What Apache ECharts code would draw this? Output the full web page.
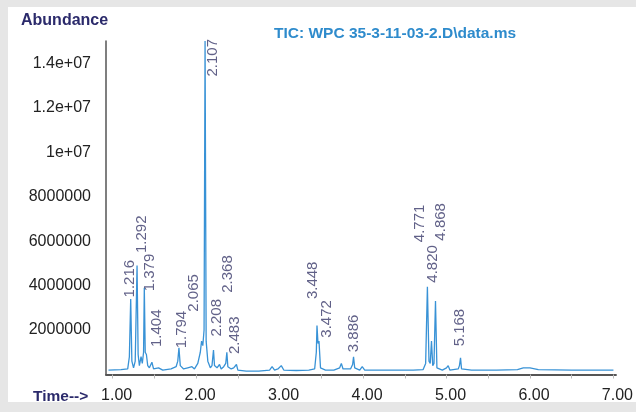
<!DOCTYPE html>
<html><head><meta charset="utf-8">
<script src="https://cdn.jsdelivr.net/npm/echarts@6/dist/echarts.min.js"></script>
<style>html,body{margin:0;padding:0;background:#e6e6e6;}#c{width:636px;height:412px;}</style>
</head><body><div id="c"></div>
<script>
// Chromatogram trace (retention time in minutes, abundance)
const timeValues = [0.95,1.10,1.18,1.20,1.216,1.23,1.25,1.27,1.292,1.305,1.32,1.34,1.355,1.37,1.379,1.39,1.404,1.42,1.44,1.47,1.49,1.55,1.60,1.70,1.76,1.78,1.794,1.81,1.85,1.90,1.95,1.98,2.02,2.05,2.065,2.08,2.095,2.107,2.12,2.14,2.17,2.19,2.208,2.22,2.25,2.28,2.30,2.33,2.355,2.368,2.38,2.42,2.45,2.483,2.50,2.60,2.75,2.88,2.91,2.94,2.98,3.02,3.05,3.20,3.35,3.42,3.44,3.448,3.46,3.472,3.49,3.55,3.65,3.72,3.74,3.76,3.85,3.875,3.886,3.90,3.96,3.99,4.02,4.20,4.40,4.60,4.72,4.75,4.771,4.79,4.805,4.820,4.835,4.85,4.868,4.885,4.95,5.00,5.02,5.04,5.14,5.155,5.168,5.18,5.30,5.60,5.85,5.92,6.00,6.10,6.50,7.00];
const abundanceValues = [2.0e5,2.2e5,2.5e5,8.0e5,3.4e6,6.0e5,3.0e5,6.0e5,4.9e6,9.0e5,4.0e5,8.0e5,5.0e5,1.0e6,3.9e6,1.0e6,9.0e5,4.0e5,3.0e5,5.5e5,2.5e5,3.0e5,2.0e5,2.5e5,3.5e5,6.0e5,1.2e6,4.0e5,2.5e5,3.0e5,3.5e5,2.5e5,5.0e5,1.0e6,1.5e6,1.3e6,2.0e6,1.5e7,1.5e6,6.0e5,3.0e5,4.0e5,1.1e6,4.0e5,3.0e5,4.5e5,2.5e5,3.5e5,5.0e5,1.0e6,3.5e5,2.5e5,3.0e5,4.5e5,2.0e5,1.5e5,1.5e5,2.0e5,3.5e5,2.0e5,2.5e5,4.0e5,2.0e5,1.8e5,2.0e5,2.5e5,1.0e6,2.2e6,1.4e6,1.5e6,3.0e5,2.0e5,2.0e5,3.0e5,5.0e5,2.5e5,2.5e5,4.5e5,8.0e5,3.0e5,2.0e5,3.5e5,2.0e5,2.0e5,2.0e5,2.0e5,2.2e5,5.0e5,3.95e6,6.0e5,5.0e5,1.5e6,4.0e5,5.0e5,3.3e6,3.0e5,2.0e5,3.0e5,4.0e5,2.0e5,2.5e5,4.0e5,7.5e5,2.5e5,2.0e5,2.0e5,2.2e5,3.0e5,3.0e5,2.2e5,2.0e5,2.0e5];

// Annotated peaks
const peakTimes = [1.216,1.292,1.379,1.404,1.794,2.065,2.107,2.208,2.368,2.483,3.448,3.472,3.886,4.771,4.820,4.868,5.168];
const peakHeights = [3.4e6,4.9e6,3.9e6,9.0e5,1.2e6,1.5e6,1.5e7,1.1e6,1.0e6,4.5e5,2.2e6,1.5e6,8.0e5,3.95e6,1.5e6,3.3e6,7.5e5];
const peakLabels = ['1.216','1.292','1.379','1.404','1.794','2.065','2.107','2.208','2.368','2.483','3.448','3.472','3.886','4.771','4.820','4.868','5.168'];

// Axis tick labels
const xTickValues = [1,2,3,4,5,6,7];
const xMinorTicks = [1,1.5,2,2.5,3,3.5,4,4.5,5,5.5,6,6.5,7];
const yTickValues = [2e6,4e6,6e6,8e6,1e7,1.2e7,1.4e7];

// Label layout nudges in screen pixels [right, down] — layout only
const labelNudges = [[-1,-1],[5,-12],[6,4],[10,-7],[3,1],[-8,-29],[8,36],[3,-13],[1,-59],[-2,-10],[-4,-26],[8,-3],[0,-4],[-8,-44],[1,-58],[5,-60],[-1,-11]];

const FONT = '"Liberation Sans", Arial, Helvetica, sans-serif';
const chart = echarts.init(document.getElementById('c'));
chart.setOption({
  backgroundColor: '#e6e6e6',
  animation: false,
  graphic: [
    {type:'rect', z:-10, silent:true, shape:{x:8,y:7,width:628,height:395}, style:{fill:'#ffffff'}},
    {type:'text', left:21, top:13, style:{text:'Abundance', font:'bold 16px '+FONT, fill:'#2b2a6b'}},
    {type:'text', left:274, top:26, style:{text:'TIC: WPC 35-3-11-03-2.D\\data.ms', font:'bold 15.5px '+FONT, fill:'#2e8bcc'}},
    {type:'text', left:33, top:389, style:{text:'Time-->', font:'bold 15.5px '+FONT, fill:'#2b2a6b'}}
  ],
  grid: {left:106, right:13, top:41, bottom:37.5},
  xAxis: {
    type:'value', min:0.92, max:7.03,
    axisLine:{show:true, onZero:false, lineStyle:{color:'#555', width:2}},
    axisTick:{show:true, customValues:xMinorTicks, length:4, lineStyle:{color:'#bbb'}},
    axisLabel:{customValues:xTickValues, formatter:v=>v.toFixed(2), margin:13, fontSize:16, color:'#222', fontFamily:FONT, padding:[0,0,0,8]},
    splitLine:{show:false}
  },
  yAxis: {
    type:'value', min:0, max:1.5e7,
    axisLine:{show:true, lineStyle:{color:'#555', width:1.5}},
    axisTick:{show:false},
    axisLabel:{customValues:yTickValues, formatter:v=> v>=1e7 ? (v/1e7)+'e+07' : String(v), margin:15, fontSize:16, color:'#222', fontFamily:FONT},
    splitLine:{show:false}
  },
  series: [
    {type:'line', data: timeValues.map((t,i)=>[t, abundanceValues[i]]), symbol:'none', silent:true,
     lineStyle:{color:'#3892d6', width:1.3}, z:2},
    {type:'scatter', symbolSize:1, itemStyle:{color:'rgba(0,0,0,0)'}, clip:false, silent:true, z:3,
     // label is rotated 90deg, so its local dx points up and dy points right on screen
     labelLayout:p=>({dx:-labelNudges[p.dataIndex][1], dy:labelNudges[p.dataIndex][0], hideOverlap:false}),
     data: peakTimes.map((t,i)=>[t, peakHeights[i]]),
     label:{show:true, position:'top', distance:0, rotate:90, align:'left', verticalAlign:'middle',
            formatter:p=>peakLabels[p.dataIndex], fontSize:15, color:'#3a3a6a', fontFamily:FONT}}
  ]
});
</script></body></html>
